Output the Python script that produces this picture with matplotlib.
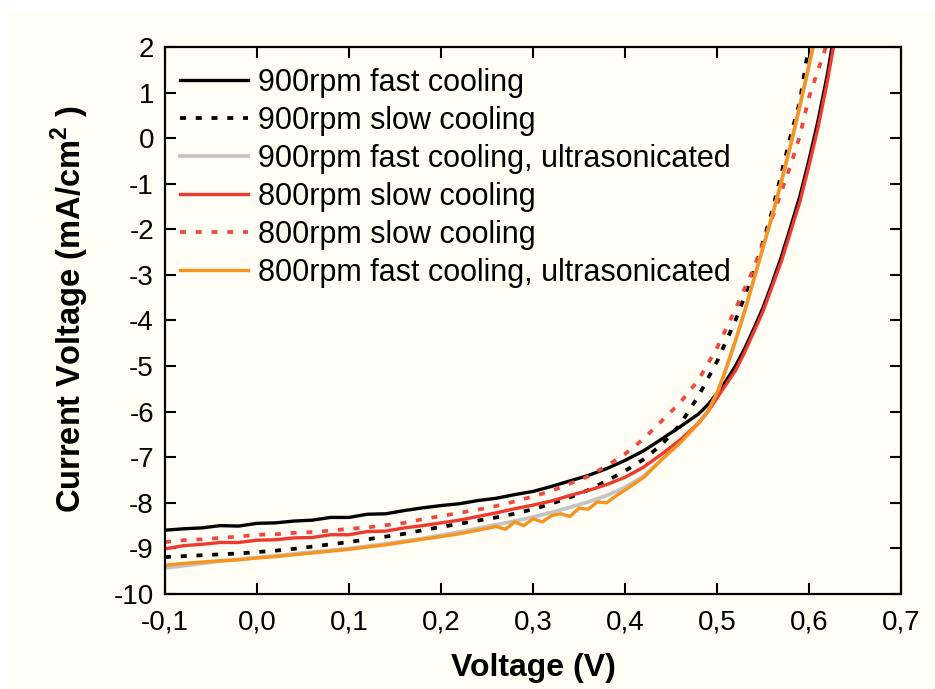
import matplotlib
matplotlib.use("Agg")
import matplotlib.pyplot as plt
from matplotlib.patches import Rectangle

plt.rcParams["font.family"] = ["Liberation Sans", "DejaVu Sans"]
plt.rcParams["mathtext.fontset"] = "custom"
plt.rcParams["mathtext.rm"] = "Liberation Sans"
plt.rcParams["mathtext.bf"] = "Liberation Sans:bold"

# J-V curves (voltage in V, current density in mA/cm^2)
v_900_fast = [-0.10, -0.08, -0.06, -0.04, -0.02, 0.00, 0.02, 0.04, 0.06, 0.08, 0.10, 0.12, 0.14, 0.16,
              0.18, 0.20, 0.22, 0.24, 0.26, 0.28, 0.30, 0.32, 0.34, 0.36, 0.38, 0.40, 0.42, 0.44, 0.46,
              0.48, 0.49, 0.50, 0.51, 0.52, 0.53, 0.54, 0.55, 0.56, 0.57, 0.58, 0.59, 0.60, 0.61, 0.62, 0.625]
j_900_fast = [-8.60, -8.57, -8.55, -8.50, -8.51, -8.45, -8.44, -8.40, -8.38, -8.32, -8.32, -8.25, -8.24, -8.17,
              -8.11, -8.06, -8.02, -7.95, -7.90, -7.82, -7.75, -7.64, -7.52, -7.40, -7.25, -7.07, -6.86, -6.60, -6.33,
              -6.05, -5.85, -5.60, -5.32, -5.00, -4.62, -4.18, -3.72, -3.18, -2.60, -1.95, -1.28, -0.48, 0.40, 1.40, 2.00]

v_900_slow = [-0.10, -0.08, -0.06, -0.04, -0.02, 0.00, 0.02, 0.04, 0.06, 0.08, 0.10, 0.12, 0.14, 0.16,
              0.18, 0.20, 0.22, 0.24, 0.26, 0.28, 0.30, 0.32, 0.34, 0.36, 0.38, 0.40, 0.42, 0.44, 0.46,
              0.48, 0.50, 0.52, 0.54, 0.56, 0.58, 0.59, 0.60]
j_900_slow = [-9.19, -9.17, -9.15, -9.13, -9.11, -9.08, -9.05, -9.01, -8.96, -8.91, -8.86, -8.80, -8.74, -8.68,
              -8.60, -8.53, -8.46, -8.39, -8.32, -8.24, -8.14, -8.02, -7.88, -7.72, -7.52, -7.30, -7.05, -6.72, -6.28,
              -5.65, -4.90, -4.00, -2.95, -1.60, 0.05, 0.80, 2.05]

v_900_fast_us = [-0.10, -0.08, -0.06, -0.04, -0.02, 0.00, 0.02, 0.04, 0.06, 0.08, 0.10, 0.12, 0.14, 0.16,
                 0.18, 0.20, 0.22, 0.24, 0.26, 0.28, 0.30, 0.32, 0.34, 0.36, 0.38, 0.40, 0.42, 0.44, 0.46,
                 0.48, 0.49, 0.50, 0.51, 0.52, 0.53, 0.54, 0.55, 0.56, 0.57, 0.58, 0.59, 0.60, 0.606]
j_900_fast_us = [-9.43, -9.38, -9.33, -9.28, -9.24, -9.20, -9.16, -9.12, -9.08, -9.04, -9.00, -8.95, -8.90, -8.84,
                 -8.78, -8.71, -8.64, -8.56, -8.48, -8.40, -8.31, -8.21, -8.10, -7.98, -7.84, -7.66, -7.42, -7.05, -6.68,
                 -6.25, -6.00, -5.60, -5.05, -4.45, -3.80, -3.10, -2.40, -1.70, -0.95, -0.15, 0.70, 1.60, 2.15]

v_800_slow = [-0.10, -0.08, -0.06, -0.04, -0.02, 0.00, 0.02, 0.04, 0.06, 0.08, 0.10, 0.12, 0.14, 0.16,
              0.18, 0.20, 0.22, 0.24, 0.26, 0.28, 0.30, 0.32, 0.34, 0.36, 0.38, 0.40, 0.42, 0.44, 0.46,
              0.48, 0.49, 0.50, 0.51, 0.52, 0.53, 0.54, 0.55, 0.56, 0.57, 0.58, 0.59, 0.60, 0.61, 0.62, 0.627]
j_800_slow = [-9.01, -8.94, -8.91, -8.87, -8.87, -8.82, -8.81, -8.77, -8.76, -8.70, -8.70, -8.63, -8.62, -8.55,
              -8.50, -8.44, -8.38, -8.30, -8.22, -8.13, -8.05, -7.96, -7.84, -7.73, -7.60, -7.44, -7.22, -6.93, -6.62,
              -6.25, -6.00, -5.70, -5.40, -5.10, -4.70, -4.25, -3.80, -3.25, -2.70, -2.05, -1.40, -0.60, 0.25, 1.25, 2.05]

v_800_slow_b = [-0.10, -0.08, -0.06, -0.04, -0.02, 0.00, 0.02, 0.04, 0.06, 0.08, 0.10, 0.12, 0.14, 0.16,
                0.18, 0.20, 0.22, 0.24, 0.26, 0.28, 0.30, 0.32, 0.34, 0.36, 0.38, 0.40, 0.42, 0.44, 0.46,
                0.48, 0.50, 0.52, 0.54, 0.56, 0.58, 0.59, 0.60, 0.61, 0.62]
j_800_slow_b = [-8.86, -8.82, -8.80, -8.77, -8.74, -8.70, -8.69, -8.66, -8.64, -8.61, -8.57, -8.54, -8.49, -8.44,
                -8.36, -8.29, -8.22, -8.15, -8.07, -7.97, -7.86, -7.74, -7.58, -7.42, -7.19, -6.93, -6.60, -6.20, -5.80,
                -5.30, -4.60, -3.75, -2.85, -1.75, -0.60, 0.05, 0.90, 1.50, 2.10]

v_800_fast_us = [-0.10, -0.08, -0.06, -0.04, -0.02, 0.00, 0.02, 0.04, 0.06, 0.08, 0.10, 0.12, 0.14, 0.16,
                 0.18, 0.20, 0.22, 0.24, 0.26, 0.27, 0.28, 0.29, 0.30, 0.31, 0.32, 0.33, 0.34, 0.35, 0.36,
                 0.37, 0.38, 0.39, 0.40, 0.42, 0.44, 0.46, 0.48, 0.49, 0.50, 0.51, 0.52, 0.53, 0.54, 0.55,
                 0.56, 0.57, 0.58, 0.59, 0.60, 0.606]
j_800_fast_us = [-9.37, -9.33, -9.30, -9.27, -9.25, -9.21, -9.18, -9.14, -9.10, -9.06, -9.02, -8.97, -8.92, -8.86,
                 -8.80, -8.74, -8.68, -8.60, -8.52, -8.58, -8.42, -8.50, -8.35, -8.42, -8.28, -8.24, -8.30, -8.12, -8.14,
                 -7.98, -8.00, -7.85, -7.72, -7.45, -7.05, -6.68, -6.25, -6.00, -5.60, -5.05, -4.45, -3.80, -3.10, -2.40,
                 -1.70, -0.95, -0.15, 0.70, 1.60, 2.15]

labels = ["900rpm fast cooling", "900rpm slow cooling", "900rpm fast cooling, ultrasonicated",
          "800rpm slow cooling", "800rpm slow cooling", "800rpm fast cooling, ultrasonicated"]

x_ticks = [-0.1, 0.0, 0.1, 0.2, 0.3, 0.4, 0.5, 0.6, 0.7]
x_ticklabels = ["-0,1", "0,0", "0,1", "0,2", "0,3", "0,4", "0,5", "0,6", "0,7"]
y_ticks = [2, 1, 0, -1, -2, -3, -4, -5, -6, -7, -8, -9, -10]
y_ticklabels = ["2", "1", "0", "-1", "-2", "-3", "-4", "-5", "-6", "-7", "-8", "-9", "-10"]

cream = "#FFFDF4"
fig = plt.figure(figsize=(9.35, 6.89), dpi=100, facecolor="white")
fig.patches.append(Rectangle((8 / 935, 0), 1, 1 - 13 / 689, transform=fig.transFigure,
                             facecolor=cream, edgecolor="none", zorder=-1))
ax = fig.add_axes([165 / 935, 1 - 594 / 689, 736 / 935, 547 / 689])
ax.set_facecolor(cream)

dots = (0, (1.6, 2.6))
ax.plot(v_900_fast, j_900_fast, color="black", lw=2.4, label=labels[0])
ax.plot(v_900_slow, j_900_slow, color="black", lw=2.7, ls=dots, label=labels[1])
ax.plot(v_900_fast_us, j_900_fast_us, color="#C4C4C4", lw=2.7, label=labels[2])
ax.plot(v_800_slow, j_800_slow, color="#EE3A2E", lw=2.4, label=labels[3])
ax.plot(v_800_slow_b, j_800_slow_b, color="#EC4A40", lw=2.7, ls=dots, label=labels[4])
ax.plot(v_800_fast_us, j_800_fast_us, color="#F7941D", lw=2.4, label=labels[5])

ax.set_xlim(-0.1, 0.7)
ax.set_ylim(-10, 2)
ax.set_xticks(x_ticks)
ax.set_xticklabels(x_ticklabels)
ax.set_yticks(y_ticks)
ax.set_yticklabels(y_ticklabels)
ax.tick_params(direction="in", length=8, width=1.5, top=True, right=True,
               labelsize=20, colors="black")
ax.tick_params(axis="x", pad=11)
ax.tick_params(axis="y", pad=8)
for s in ax.spines.values():
    s.set_linewidth(1.6)

ax.set_xlabel("Voltage (V)", fontsize=23, fontweight="bold", labelpad=13)
ax.set_ylabel(r"Current Voltage (mA/cm$^\mathbf{2}$ )", fontsize=23.5, fontweight="bold")
ax.yaxis.set_label_coords(-0.1, 0.52)

ax.legend(loc="upper left", bbox_to_anchor=(0.021, 0.962), frameon=False, fontsize=22,
          handlelength=2.2, handletextpad=0.33, labelspacing=0.26, borderpad=0, borderaxespad=0)

fig.savefig("out.png", dpi=100, facecolor=fig.get_facecolor())
